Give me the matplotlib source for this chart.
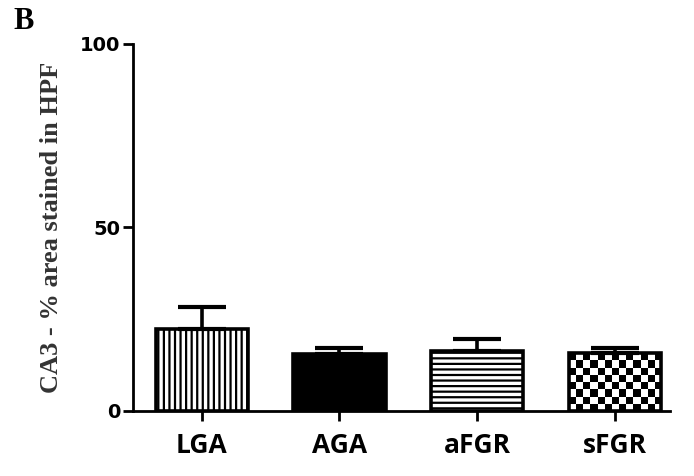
import numpy as np
import matplotlib.pyplot as plt

groups = ["LGA", "AGA", "aFGR", "sFGR"]
means = [22.3, 15.4, 16.3, 15.7]
errs = [6.0, 1.7, 3.3, 1.5]
yticks = [0, 50, 100]

plt.rcParams["hatch.linewidth"] = 1.6

fig = plt.figure(figsize=(6.94, 4.76), dpi=100)
ax = fig.add_axes([0.1916, 0.1366, 0.7734, 0.771])

x = np.arange(len(groups))
bars = ax.bar(x, means, width=0.67, color="white", edgecolor="black",
              linewidth=2.6, zorder=2)
bars[0].set_hatch("|||")
bars[1].set_facecolor("black")
bars[2].set_hatch("---")
bars[3].set_facecolor("none")

# checkerboard for sFGR
b = bars[3]
x0, y0 = b.get_x(), b.get_y()
w, h = b.get_width(), b.get_height()
checker = 1 - np.indices((8, 13)).sum(axis=0) % 2
im = ax.imshow(checker, cmap="gray", extent=[x0, x0 + w, y0, y0 + h],
               aspect="auto", origin="lower", interpolation="nearest", zorder=1.5)
im.set_clip_path(b)

ax.errorbar(x, means, yerr=[np.zeros(len(errs)), errs], fmt="none",
            ecolor="black", elinewidth=2.6, capsize=17, capthick=3, zorder=3)

ax.set_xlim(-0.5, 3.4)
ax.set_ylim(0, 100)
ax.set_yticks(yticks)
ax.set_xticks(x)
ax.set_xticklabels(groups, fontfamily="Open Sans", fontweight="bold", fontsize=19)
for lab in ax.get_yticklabels():
    lab.set_fontfamily("DejaVu Sans")
    lab.set_fontweight("bold")
    lab.set_fontsize(14)

for s in ["top", "right"]:
    ax.spines[s].set_visible(False)
for s in ["left", "bottom"]:
    ax.spines[s].set_linewidth(2)
ax.tick_params(direction="out", length=7, width=2, pad=2)
ax.tick_params(axis="x", pad=8)

ax.set_ylabel("CA3 - % area stained in HPF", fontfamily="Liberation Serif",
              fontweight="bold", fontsize=19, color="#333333", labelpad=12)
fig.text(0.02, 0.985, "B", fontfamily="Liberation Serif", fontweight="bold",
         fontsize=22, va="top")

fig.savefig("out.png", dpi=100)
